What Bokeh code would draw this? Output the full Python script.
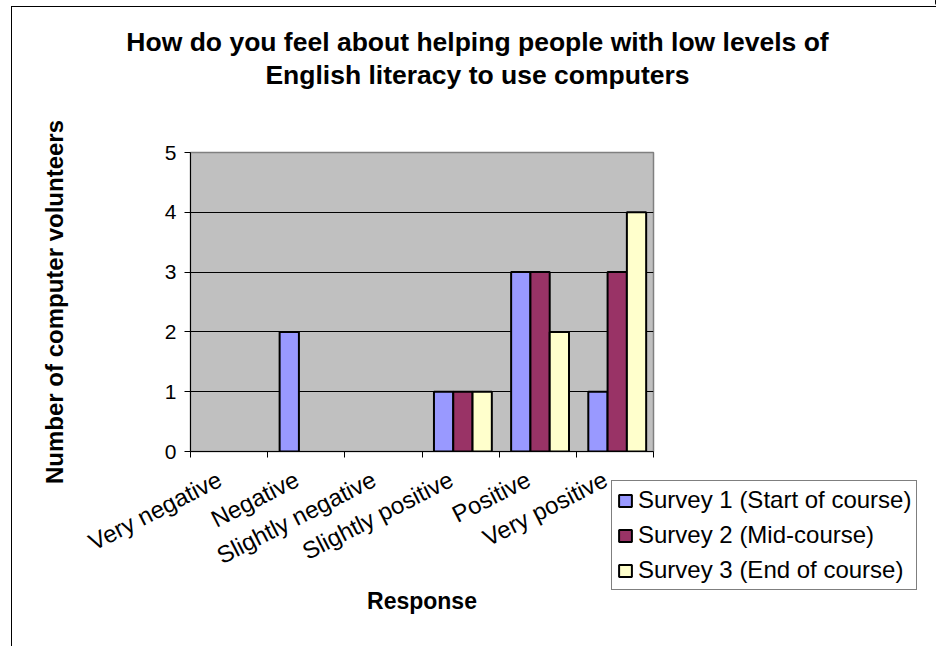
import math
from bokeh.plotting import figure
from bokeh.models import (FixedTicker, Range1d, ColumnDataSource, Legend, LegendItem,
                          Label)
from bokeh.embed import file_html
from bokeh.resources import INLINE

# ---------------- data ----------------
categories = ["Very negative", "Negative", "Slightly negative",
              "Slightly positive", "Positive", "Very positive"]
survey_names = ["Survey 1 (Start of course)", "Survey 2 (Mid-course)",
                "Survey 3 (End of course)"]
survey1 = [0, 2, 0, 1, 3, 1]
survey2 = [0, 0, 0, 1, 3, 3]
survey3 = [0, 0, 0, 1, 2, 4]
y_ticks = [0, 1, 2, 3, 4, 5]
title_lines = ["How do you feel about helping people with low levels of",
               "English literacy to use computers"]
x_title = "Response"
y_title = "Number of computer volunteers"

# ---------------- style ----------------
colors = ["#9999FF", "#993366", "#FFFFCC"]
FONT = "Liberation Sans"
FL, FT, FW, FH = 190, 152, 463, 299
W, H = 936, 646
BAR_W = 0.25
SHIFT = 0.03
LABEL_SHIFT = 0.12

n = len(categories)
p = figure(frame_width=FW, frame_height=FH, width=W, height=H,
           x_range=Range1d(0, n), y_range=Range1d(0, max(y_ticks)),
           output_backend="svg", toolbar_location=None,
           min_border_left=FL, min_border_top=FT,
           min_border_right=W - FL - FW, min_border_bottom=H - FT - FH)
p.background_fill_color = "#C0C0C0"
p.border_fill_alpha = 0
p.styles = {"background": "linear-gradient(#000,#000) 11px 6px / 1px 100% no-repeat, "
                          "linear-gradient(#000,#000) 11px 6px / 100% 1px no-repeat, #fff"}
p.outline_line_color = "#808080"
p.outline_line_width = 1.5

# bars
series = [survey1, survey2, survey3]
sources = []
for s, vals in enumerate(series):
    xs, tops = [], []
    for i, v in enumerate(vals):
        if v > 0:
            xs.append(i + 0.5 + (s - 1) * BAR_W + SHIFT)
            tops.append(v)
    src = ColumnDataSource(dict(x=xs, top=tops))
    sources.append(src)
    p.vbar(x="x", top="top", bottom=0, width=BAR_W, source=src,
           fill_color=colors[s], line_color="black", line_width=2)

# axes
xa = p.xaxis[0]
label_pos = [i + 0.5 - LABEL_SHIFT for i in range(n)]
xa.ticker = FixedTicker(ticks=label_pos, minor_ticks=list(range(n + 1)))
xa.major_label_overrides = {t: c for t, c in zip(label_pos, categories)}
xa.major_tick_line_color = None
xa.minor_tick_line_color = "black"
xa.minor_tick_out = 6
xa.minor_tick_in = 0
xa.axis_line_color = "black"
xa.major_label_orientation = math.radians(27)
xa.major_label_text_font = FONT
xa.major_label_text_font_size = "24px"
xa.major_label_text_color = "black"
xa.major_label_standoff = 20
xa.axis_label = x_title
xa.axis_label_text_font = FONT
xa.axis_label_text_font_style = "bold"
xa.axis_label_text_font_size = "23px"
xa.axis_label_text_color = "black"
xa.axis_label_standoff = 4

ya = p.yaxis[0]
ya.ticker = FixedTicker(ticks=y_ticks, minor_ticks=[])
ya.major_tick_out = 6
ya.major_tick_in = 0
ya.major_tick_line_color = "black"
ya.axis_line_color = "black"
ya.major_label_text_font = FONT
ya.major_label_text_font_size = "21px"
ya.major_label_text_color = "black"
ya.major_label_standoff = 8
ya.axis_label = y_title
ya.axis_label_text_font = FONT
ya.axis_label_text_font_style = "bold"
ya.axis_label_text_font_size = "24px"
ya.axis_label_text_color = "black"
ya.axis_label_standoff = 94

p.xgrid.grid_line_color = None
p.ygrid.ticker = FixedTicker(ticks=y_ticks)
p.ygrid.grid_line_color = "black"
p.ygrid.grid_line_width = 1

# ---------- transparent overlay in page pixels: title and legend ----------
q = figure(width=W, height=H, x_range=Range1d(0, W), y_range=Range1d(H, 0),
           output_backend="svg", toolbar_location=None,
           x_axis_type=None, y_axis_type=None,
           min_border=0, min_border_left=0, min_border_right=0,
           min_border_top=0, min_border_bottom=0)
q.grid.visible = False
q.outline_line_color = None
q.background_fill_alpha = 0
q.border_fill_alpha = 0
q.styles = {"position": "absolute", "top": "0px", "left": "0px",
            "pointer-events": "none"}

for line, base in zip(title_lines, [41, 74]):
    q.add_layout(Label(x=477, y=base, text=line, text_align="center",
                       text_baseline="alphabetic", text_font=FONT,
                       text_font_style="bold", text_font_size="26.5px",
                       text_color="black"))

# legend proxies: the same series, drawn through a range that keeps them out of view
q.extra_x_ranges = {"hidden": Range1d(-1000, -990)}
proxies = []
for s in range(3):
    proxies.append(q.vbar(x="x", top="top", bottom=0, width=BAR_W,
                          source=sources[s], x_range_name="hidden",
                          fill_color=colors[s], line_color="black", line_width=2))

legend = Legend(items=[LegendItem(label=survey_names[i], renderers=[proxies[i]])
                       for i in range(3)],
                location=(611, H - 590), orientation="vertical")
legend.label_text_font = FONT
legend.label_text_font_size = "24px"
legend.label_text_color = "black"
legend.glyph_width = 16
legend.glyph_height = 15
legend.label_standoff = 5
legend.padding = 5
legend.spacing = 7
legend.margin = 0
legend.border_line_color = "black"
legend.border_line_width = 1
legend.background_fill_color = "white"
legend.background_fill_alpha = 1
q.add_layout(legend, "center")

open("out.html", "w").write(file_html([p, q], INLINE))
